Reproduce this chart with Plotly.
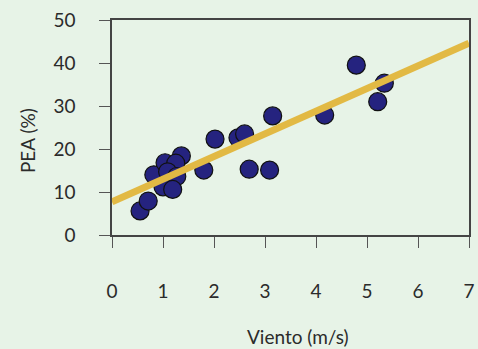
import plotly.graph_objects as go

viento = [0.55, 0.71, 0.82, 1.04, 1.36, 1.25, 1.09, 1.27, 1.00, 1.19, 1.80,
          2.02, 2.47, 2.60, 2.69, 3.09, 3.15, 4.17, 4.79, 5.34, 5.21]
pea = [5.6, 7.9, 14.0, 16.8, 18.4, 16.7, 14.7, 13.6, 11.2, 10.6, 15.1,
       22.3, 22.6, 23.5, 15.3, 15.1, 27.7, 27.9, 39.5, 35.3, 31.0]

fit_x = [0, 7]
fit_y = [7.7, 44.6]

x_ticks = [0, 1, 2, 3, 4, 5, 6, 7]
y_ticks = [0, 10, 20, 30, 40, 50]

bg = "#E7F3E7"
font = "Lato"
txt = "#2b2b2b"

fig = go.Figure()
fig.add_trace(go.Scatter(
    x=viento, y=pea, mode="markers",
    marker=dict(size=18, color="#25237F", line=dict(color="#111111", width=1.2)),
    showlegend=False, cliponaxis=True))
fig.add_trace(go.Scatter(
    x=fit_x, y=fit_y, mode="lines",
    line=dict(color="#E2B944", width=7), showlegend=False))

axis_common = dict(showgrid=False, zeroline=False, showline=True, mirror=True,
                   automargin=False,
                   linecolor="#444444", linewidth=1.5, ticks="outside",
                   ticklen=11, tickwidth=1.2, tickcolor="#555555",
                   tickfont=dict(family=font, size=19, color=txt))

fig.update_layout(
    width=478, height=349,
    margin=dict(l=112, r=9, t=20, b=114, autoexpand=False),
    paper_bgcolor=bg, plot_bgcolor=bg,
    xaxis=dict(range=[0, 7], tickvals=x_ticks, ticklabelstandoff=27, **axis_common),
    yaxis=dict(range=[0, 50], tickvals=y_ticks, ticklabelstandoff=20, **axis_common),
    annotations=[
        dict(text="Viento (m/s)", xref="paper", yref="paper", x=0.52, y=-0.47,
             showarrow=False, font=dict(family=font, size=19, color=txt),
             xanchor="center", yanchor="middle"),
        dict(text="PEA (%)", xref="paper", yref="paper", x=-0.238, y=0.437,
             showarrow=False, textangle=-90, font=dict(family=font, size=19, color=txt),
             xanchor="center", yanchor="middle"),
    ],
)

fig.write_html("out.html", config={"displayModeBar": False},
               post_script="document.body.style.margin='0';document.body.style.overflow='hidden';")
